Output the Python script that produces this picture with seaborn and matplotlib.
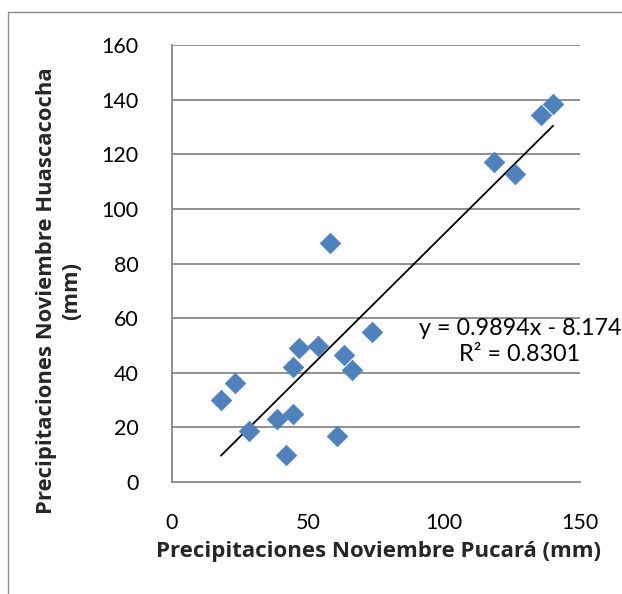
import numpy as np
import pandas as pd
import matplotlib
matplotlib.use("Agg")
import matplotlib.pyplot as plt
import seaborn as sns
from matplotlib.patches import Rectangle

# Data
pucara = [18.0, 23.2, 28.3, 38.6, 41.9, 44.5, 44.5, 46.7, 53.7, 58.1,
          60.7, 63.2, 66.2, 73.5, 118.4, 126.1, 135.7, 140.1]
huascacocha = [30.0, 36.3, 18.7, 23.1, 9.9, 24.9, 42.1, 49.1, 49.8, 87.5,
               16.8, 46.5, 41.0, 54.9, 117.2, 112.8, 134.4, 138.4]
slope = 0.9894
intercept = -8.174
r2 = 0.8301
x_ticks = [0, 50, 100, 150]
y_ticks = [0, 20, 40, 60, 80, 100, 120, 140, 160]

df = pd.DataFrame({"Pucara": pucara, "Huascacocha": huascacocha})

sns.set_theme(style="white")
plt.rcParams["font.family"] = ["Lato", "DejaVu Sans"]

W, H = 622, 594
fig = plt.figure(figsize=(W / 100, H / 100), dpi=100)
fig.patch.set_facecolor("white")

# outer chart border (extends beyond right/bottom edges)
fig.patches.append(Rectangle((8 / W, -0.1), 1.2, 1 - 12 / H + 0.1,
                             transform=fig.transFigure, fill=False,
                             edgecolor="#8a8a8a", linewidth=1.0))

left, right, top, bottom = 172, 580, 45, 482
ax = fig.add_axes([left / W, 1 - bottom / H, (right - left) / W, (bottom - top) / H])

grid_c = "#878787"
ax.set_xlim(0, 150)
ax.set_ylim(0, 160)
ax.set_yticks(y_ticks)
ax.set_xticks(x_ticks)
for y in y_ticks[1:]:
    ax.axhline(y, color=grid_c, linewidth=1.3, zorder=1)

# trendline
xs = np.array([min(pucara), max(pucara)])
ax.plot(xs, slope * xs + intercept, color="black", linewidth=1.3, zorder=2)

sns.scatterplot(data=df, x="Pucara", y="Huascacocha", marker="D", s=110,
                color="#4F81BD", edgecolor="#4F81BD", linewidth=0.5,
                ax=ax, zorder=3, legend=False)

for s in ["top", "right"]:
    ax.spines[s].set_visible(False)
for s in ["left", "bottom"]:
    ax.spines[s].set_color(grid_c)
    ax.spines[s].set_linewidth(1.3)
ax.tick_params(axis="both", which="both", direction="out", length=6,
               width=1.3, color=grid_c, labelsize=15.5, labelcolor="black")
ax.tick_params(axis="y", pad=18)
ax.tick_params(axis="x", pad=16)
ax.set_xlabel("")
ax.set_ylabel("")
ax.set_facecolor("white")

fig.text(520 / W, 1 - 341.5 / H, f"y = {slope}x - {abs(intercept)}\nR² = {r2}",
         ha="center", va="center", multialignment="center",
         fontsize=16.8, linespacing=1.28, color="black")

bold_font = ["Open Sans", "DejaVu Sans"]
fig.text(379 / W, 1 - 551 / H, "Precipitaciones Noviembre Pucará (mm)",
         ha="center", va="center", fontsize=16, fontweight="bold",
         family=bold_font)
fig.text(59 / W, 1 - 291 / H, "Precipitaciones Noviembre Huascacocha\n(mm)",
         ha="center", va="center", rotation=90, multialignment="center",
         fontsize=15.8, fontweight="bold", linespacing=1.25, family=bold_font)

fig.savefig("out.png", dpi=100, facecolor="white")
